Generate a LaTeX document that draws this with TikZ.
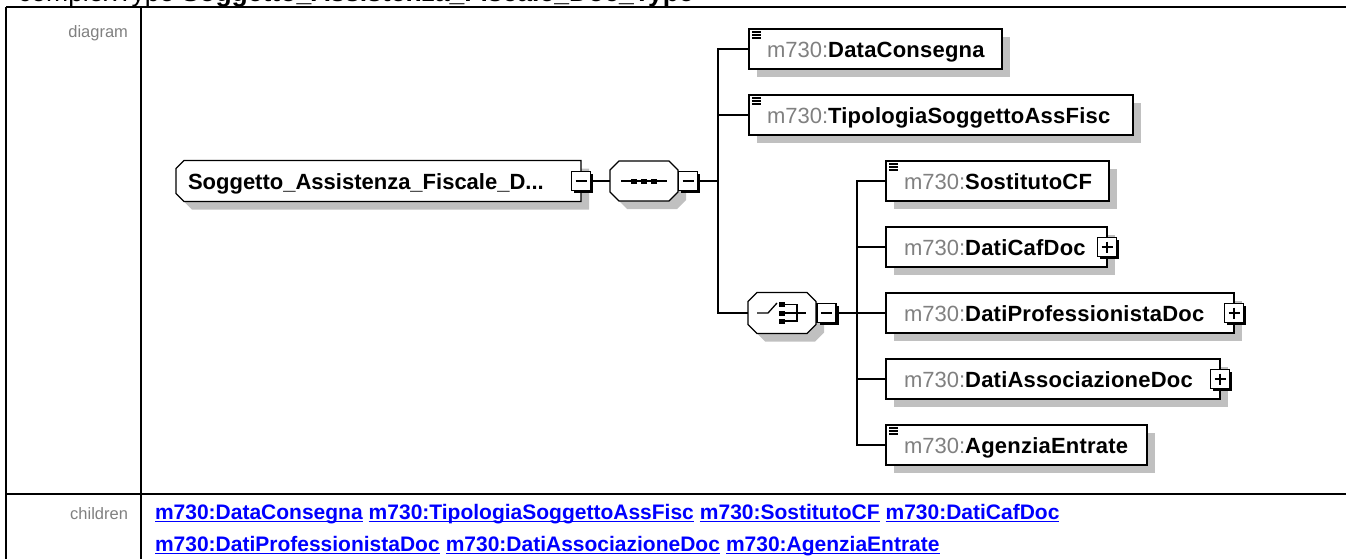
\documentclass[tikz,border=0pt]{standalone}
\usepackage{fontspec}
\setmainfont{Liberation Sans}
\newfontfamily\nmfont[LetterSpace=1]{Liberation Sans}
\newfontfamily\rtfont{Liberation Sans}
\newfontfamily\lkfont{Liberation Sans}
\newfontfamily\hdfont{Liberation Sans}
\usetikzlibrary{shadows}
\definecolor{shd}{HTML}{C0C0C0}
\definecolor{pfxgray}{HTML}{808080}
\definecolor{lblgray}{HTML}{808080}
\definecolor{linkblue}{HTML}{0000FF}
\newcommand{\pfx}[1]{{\color{pfxgray}#1}}
\newcommand{\nmx}[1]{{\nmfont\bfseries #1}}
\tikzset{
  conn/.style={draw=black, line width=1.3pt},
  tblline/.style={draw=black, line width=2pt},
  ebox/.style={rectangle, draw=black, line width=1.3pt, fill=white, minimum height=40pt,
    inner sep=0pt, outer sep=0pt, anchor=west,
    general shadow={fill=shd, shadow xshift=8pt, shadow yshift=-8pt}},
  etxt/.style={anchor=base west, inner sep=0pt, outer sep=0pt, font=\fontsize{22}{26}\selectfont},
  holder/.style={rectangle, draw=none, inner sep=0pt, outer sep=0pt, anchor=west},
  pmbase/.style={rectangle, draw=black, line width=1.2pt, fill=white, minimum width=19pt,
    minimum height=19pt, inner sep=0pt, outer sep=0pt,
    general shadow={fill=black, shadow xshift=2.5pt, shadow yshift=-2.5pt}},
  minusbox/.style={pmbase, path picture={\draw[line width=1.3pt]
    ([xshift=4pt]path picture bounding box.west) -- ([xshift=-4pt]path picture bounding box.east);}},
  plusbox/.style={pmbase, path picture={\draw[line width=1.3pt]
    ([xshift=4pt]path picture bounding box.west) -- ([xshift=-4pt]path picture bounding box.east)
    ([yshift=-4pt]path picture bounding box.north) -- ([yshift=4pt]path picture bounding box.south);}},
  lbltxt/.style={anchor=base east, inner sep=0pt, outer sep=0pt, text=lblgray, font=\fontsize{16.5}{19}\selectfont},
  linktext/.style={anchor=base west, inner sep=0pt, outer sep=0pt, text=linkblue,
    font=\lkfont\bfseries\fontsize{21}{25}\selectfont},
  symline/.style={draw=black, line width=1.3pt},
  pics/octo/.style 2 args={code={
    \fill[shd] (17,8-#2/2) -- (#1-1,8-#2/2) -- (#1+8,17-#2/2) -- (#1+8,#2/2-1) -- (#1-1,8+#2/2)
      -- (17,8+#2/2) -- (8,#2/2-1) -- (8,17-#2/2) -- cycle;
    \draw[line width=1.3pt, fill=white] (9,-#2/2) -- (#1-9,-#2/2) -- (#1,9-#2/2) -- (#1,#2/2-9)
      -- (#1-9,#2/2) -- (9,#2/2) -- (0,#2/2-9) -- (0,9-#2/2) -- cycle;
  }},
  pics/rootshape/.style 2 args={code={
    \fill[shd] (16,8-#2/2) -- (#1+8,8-#2/2) -- (#1+8,8+#2/2) -- (16,8+#2/2) -- (8,#2/2) -- (8,16-#2/2) -- cycle;
    \draw[line width=1.3pt, fill=white] (8,-#2/2) -- (#1,-#2/2) -- (#1,#2/2) -- (8,#2/2) -- (0,#2/2-8) -- (0,8-#2/2) -- cycle;
  }},
  pics/simpicon/.style={code={
    \draw[line width=1.2pt] (3,3) -- (12,3) (3,6) -- (12,6) (3,9) -- (12,9);
  }},
}
\begin{document}
\begin{tikzpicture}[x=1pt, y=-1pt]
\useasboundingbox (0,0) rectangle (1346,558);

% header (cut by the page edge)
\node[anchor=base west, inner sep=0pt] (hdr) at (18,1.5)
  {\fontsize{26.5}{30}\selectfont complexType {\hdfont\bfseries Soggetto\_Assistenza\_Fiscale\_Doc\_Type}};

% table
\draw[tblline] (6,6.5) -- (1350,6.5);
\draw[tblline] (6,6.5) -- (6,562);
\draw[tblline] (141,6.5) -- (141,562);
\draw[tblline] (6,494) -- (1350,494);
\node[lbltxt] (ldiag) at (128,37) {diagram};
\node[lbltxt] (lchild) at (128,519) {children};

% root
\node[holder, minimum width=405pt, minimum height=41pt] (root) at (176,181) {};
\pic at (root.west) {rootshape={405}{41}};
\node[etxt] (roott) at ([xshift=12pt, yshift=-8pt]root.west)
  {{\rtfont\bfseries Soggetto\_Assistenza\_Fiscale\_D...}};
\node[minusbox] (rootm) at (root.east) {};

% sequence
\node[holder, minimum width=68pt, minimum height=40pt] (seq) at (610,181) {};
\pic at (seq.west) {octo={68}{40}};
\begin{scope}[shift={(seq.west)}]
  \draw[symline] (11,0) -- (57,0);
  \fill (21,-2.5) rectangle (27,2.5);
  \fill (31,-2.5) rectangle (37,2.5);
  \fill (41,-2.5) rectangle (47,2.5);
\end{scope}
\node[minusbox, anchor=west] (seqm) at ([xshift=0.5pt]seq.east) {};

% choice
\node[holder, minimum width=68pt, minimum height=41pt] (cho) at (748,313) {};
\pic at (cho.west) {octo={68}{41}};
\begin{scope}[shift={(cho.west)}]
  \draw[symline] (9,0) -- (20,0) -- (29,-10);
  \fill (31,-11) rectangle (37,-6);
  \fill (31,-2.5) rectangle (37,2.5);
  \fill (31,5.5) rectangle (37,10.5);
  \draw[symline] (37,-8.5) -- (49,-8.5) -- (49,8) -- (37,8);
  \draw[symline] (37,0) -- (58,0);
\end{scope}
\node[minusbox, anchor=west] (chom) at ([xshift=1pt]cho.east) {};

% elements
\node[ebox, minimum width=253pt] (e1) at (749,49) {};
\pic at (e1.north west) {simpicon};
\node[etxt] (t1) at ([xshift=18pt, yshift=-8pt]e1.west) {\pfx{m730:}\nmx{DataConsegna}};

\node[ebox, minimum width=384pt] (e2) at (749,115) {};
\pic at (e2.north west) {simpicon};
\node[etxt] (t2) at ([xshift=18pt, yshift=-8pt]e2.west) {\pfx{m730:}\nmx{TipologiaSoggettoAssFisc}};

\node[ebox, minimum width=223pt] (e3) at (886,181) {};
\pic at (e3.north west) {simpicon};
\node[etxt] (t3) at ([xshift=18pt, yshift=-8pt]e3.west) {\pfx{m730:}\nmx{SostitutoCF}};

\node[ebox, minimum width=221pt] (e4) at (886,247) {};
\node[etxt] (t4) at ([xshift=18pt, yshift=-8pt]e4.west) {\pfx{m730:}\nmx{DatiCafDoc}};
\node[plusbox] (p4) at (e4.east) {};

\node[ebox, minimum width=348pt] (e5) at (886,313) {};
\node[etxt] (t5) at ([xshift=18pt, yshift=-8pt]e5.west) {\pfx{m730:}\nmx{DatiProfessionistaDoc}};
\node[plusbox] (p5) at (e5.east) {};

\node[ebox, minimum width=334pt] (e6) at (886,379) {};
\node[etxt] (t6) at ([xshift=18pt, yshift=-8pt]e6.west) {\pfx{m730:}\nmx{DatiAssociazioneDoc}};
\node[plusbox] (p6) at (e6.east) {};

\node[ebox, minimum width=261pt] (e7) at (886,445) {};
\pic at (e7.north west) {simpicon};
\node[etxt] (t7) at ([xshift=18pt, yshift=-8pt]e7.west) {\pfx{m730:}\nmx{AgenziaEntrate}};

% connectors
\coordinate (bus1) at (718,181);
\coordinate (bus2) at (857,313);
\draw[conn] (rootm.east) -- (seq.west);
\draw[conn] (seqm.east) -- (bus1);
\draw[conn] (e1.west) -| (bus1);
\draw[conn] (e2.west) -| (bus1);
\draw[conn] (cho.west) -| (bus1);
\draw[conn] (chom.east) -- (bus2);
\draw[conn] (e3.west) -| (bus2);
\draw[conn] (e4.west) -| (bus2);
\draw[conn] (e5.west) -- (bus2);
\draw[conn] (e6.west) -| (bus2);
\draw[conn] (e7.west) -| (bus2);

% children links
\node[linktext] (c1) at (155,519) {m730:DataConsegna};
\node[linktext] (c2) at ([xshift=6pt]c1.base east) {m730:TipologiaSoggettoAssFisc};
\node[linktext] (c3) at ([xshift=6pt]c2.base east) {m730:SostitutoCF};
\node[linktext] (c4) at ([xshift=6pt]c3.base east) {m730:DatiCafDoc};
\node[linktext] (c5) at (155,551) {m730:DatiProfessionistaDoc};
\node[linktext] (c6) at ([xshift=6pt]c5.base east) {m730:DatiAssociazioneDoc};
\node[linktext] (c7) at ([xshift=6pt]c6.base east) {m730:AgenziaEntrate};
\foreach \n in {c1,c2,c3,c4,c5,c6,c7}
  \draw[draw=linkblue, line width=1.5pt] ([yshift=-2.5pt]\n.base west) -- ([yshift=-2.5pt]\n.base east);
\end{tikzpicture}
\end{document}
